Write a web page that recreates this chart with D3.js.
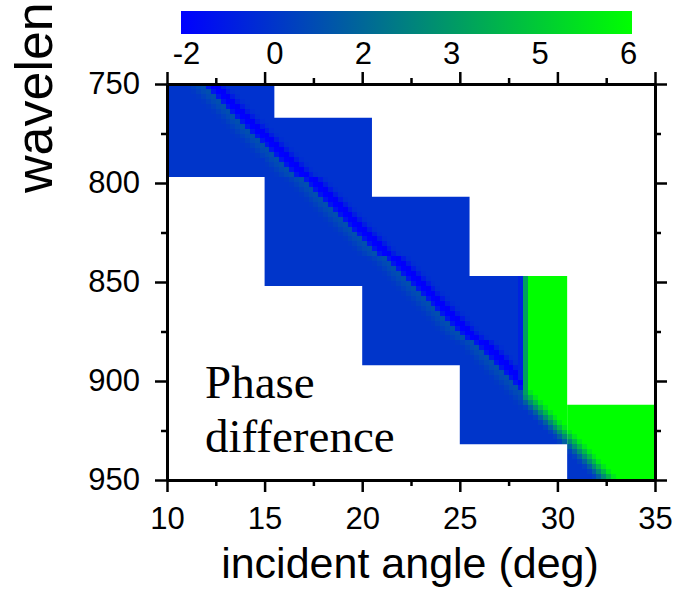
<!DOCTYPE html>
<html>
<head>
<meta charset="utf-8">
<script src="https://cdn.jsdelivr.net/npm/d3@7"></script>
<style>
  body { margin: 0; background: #fff; }
  svg { display: block; }
</style>
</head>
<body>
<svg id="chart" width="677" height="589"></svg>
<script>
// Each block is one sweep of incident angle and wavelength
const blockAngleStart = [10, 15, 20, 25, 30.5];
const blockAngleEnd   = [15.5, 20.5, 25.5, 30.5, 35];
const blockWlStart    = [750, 767, 807, 847, 912];
const blockWlEnd      = [797, 852, 892, 932, 950];
// Angle from which the phase sits on the upper (wrapped) branch; null = never
const blockWrapAngle  = [null, null, null, 28.2, 30.5];

// Resonance: incident angle of the dark band at a given wavelength
const resonanceWl    = [750, 800, 850, 900, 950];
const resonanceAngle = [11.9, 17.2, 22.5, 27.8, 32.9];

// Phase difference across the resonance, per cell away from it (negative = smaller angle)
const bandOffset = [-5, -4, -3, -2, -1, 0, 1, 2, 3, 4, 5];
const bandPhase  = [-0.35, -0.2, 0.0, 0.25, 0.5, -1.4, -2.0, -1.8, -1.1, -0.6, -0.5];
// Same across the resonance on the wrapped branch
const wrapOffset = [-4, -3, -2, -1, 0, 1, 2];
const wrapPhase  = [-0.35, 0.0, 1.0, 2.4, 3.8, 5.2, 6.0];
// Column just before the wrap edge, and the first wrapped column
const wrapEdgePhase = [-1.0, 3.0];

const angleStep = 0.25;
const wlStep = 2.5;

const phaseDomain = [-2, 6];
const colorbarLabels = ["-2", "0", "2", "3", "5", "6"];
const angleTicks = [10, 15, 20, 25, 30, 35];
const angleMinorTicks = [12.5, 17.5, 22.5, 27.5, 32.5];
const wlTicks = [750, 800, 850, 900, 950];
const wlMinorTicks = [775, 825, 875, 925];

const svg = d3.select("#chart");
const margin = { left: 167, right: 22, top: 84, bottom: 109 };
const W = 677, H = 589;

const x = d3.scaleLinear().domain([10, 35]).range([margin.left, W - margin.right]);
const y = d3.scaleLinear().domain([750, 950]).range([margin.top, H - margin.bottom]);
const color = d3.scaleLinear().domain(phaseDomain).range(["#0000ff", "#00ff00"]);
const lineAngle = d3.scaleLinear().domain(resonanceWl).range(resonanceAngle);

function lookup(offsets, values, k) {
  const i = Math.max(0, Math.min(offsets.length - 1, k - offsets[0]));
  return values[i];
}

function cellPhase(b, a, wl) {
  const k = Math.round((a - lineAngle(wl)) / angleStep);
  const wrap = blockWrapAngle[b];
  if (wrap !== null && a >= wrap) {
    let v = lookup(wrapOffset, wrapPhase, k);
    if (wrap > blockAngleStart[b] && a < wrap + angleStep) v = Math.min(v, wrapEdgePhase[1]);
    return v;
  }
  let v = lookup(bandOffset, bandPhase, k);
  if (wrap !== null && a >= wrap - angleStep && k > 1) v = wrapEdgePhase[0];
  return v;
}

const defs = svg.append("defs");
defs.append("filter")
  .attr("id", "soften")
  .attr("x", "-10%").attr("y", "-10%").attr("width", "120%").attr("height", "120%")
  .append("feGaussianBlur").attr("stdDeviation", 0.7);

// Heat map, one clipped group per block, later blocks on top
const heat = svg.append("g");
blockAngleStart.forEach((a0, b) => {
  const a1 = blockAngleEnd[b], w0 = blockWlStart[b], w1 = blockWlEnd[b];
  defs.append("clipPath").attr("id", "clip" + b)
    .append("rect")
    .attr("x", x(a0)).attr("y", y(w0))
    .attr("width", x(a1) - x(a0)).attr("height", y(w1) - y(w0));

  const cells = [];
  for (let a = a0 - angleStep; a < a1 + angleStep; a += angleStep) {
    for (let w = w0 - wlStep; w < w1 + wlStep; w += wlStep) {
      const ac = a + angleStep / 2, wc = w + wlStep / 2;
      cells.push({ a, w, v: cellPhase(b, ac, wc) });
    }
  }
  heat.append("g")
    .attr("clip-path", `url(#clip${b})`)
    .append("g")
    .attr("filter", "url(#soften)")
    .selectAll("rect")
    .data(cells)
    .join("rect")
    .attr("x", d => x(d.a))
    .attr("y", d => y(d.w))
    .attr("width", x(angleStep) - x(0) + 0.6)
    .attr("height", y(750 + wlStep) - y(750) + 0.6)
    .attr("fill", d => color(d.v))
    .attr("shape-rendering", "crispEdges");
});

// Axes
const font = "'Liberation Sans', Arial, sans-serif";
function styleAxis(g) {
  g.select(".domain").attr("stroke", "#000").attr("stroke-width", 3);
  g.selectAll(".tick line").attr("stroke", "#000").attr("stroke-width", 2.5);
  g.selectAll(".tick text").attr("fill", "#000").style("font-family", font).style("font-size", "31px");
}
const plotBottom = H - margin.bottom, plotTop = margin.top;
const plotLeft = margin.left, plotRight = W - margin.right;

svg.append("g").attr("transform", `translate(0,${plotBottom})`)
  .call(d3.axisBottom(x).tickValues(angleTicks).tickSize(12).tickSizeOuter(0).tickPadding(15))
  .call(styleAxis);
svg.append("g").attr("transform", `translate(0,${plotBottom})`)
  .call(d3.axisBottom(x).tickValues(angleMinorTicks).tickSize(6).tickFormat(""))
  .call(styleAxis).select(".domain").remove();
svg.append("g").attr("transform", `translate(0,${plotTop})`)
  .call(d3.axisTop(x).tickValues(angleTicks).tickSize(12).tickSizeOuter(0).tickFormat(""))
  .call(styleAxis);
svg.append("g").attr("transform", `translate(0,${plotTop})`)
  .call(d3.axisTop(x).tickValues(angleMinorTicks).tickSize(6).tickFormat(""))
  .call(styleAxis).select(".domain").remove();

svg.append("g").attr("transform", `translate(${plotLeft},0)`)
  .call(d3.axisLeft(y).tickValues(wlTicks).tickSize(12).tickSizeOuter(0).tickPadding(15))
  .call(styleAxis);
svg.append("g").attr("transform", `translate(${plotLeft},0)`)
  .call(d3.axisLeft(y).tickValues(wlMinorTicks).tickSize(6).tickFormat(""))
  .call(styleAxis).select(".domain").remove();
svg.append("g").attr("transform", `translate(${plotRight},0)`)
  .call(d3.axisRight(y).tickValues(wlTicks).tickSize(12).tickSizeOuter(0).tickFormat(""))
  .call(styleAxis);
svg.append("g").attr("transform", `translate(${plotRight},0)`)
  .call(d3.axisRight(y).tickValues(wlMinorTicks).tickSize(6).tickFormat(""))
  .call(styleAxis).select(".domain").remove();

// Axis titles
svg.append("text")
  .attr("x", (222 + 598) / 2).attr("y", 578)
  .attr("text-anchor", "middle")
  .style("font-family", font).style("font-size", "43px")
  .text("incident angle (deg)");
svg.append("text")
  .attr("transform", "translate(52,193) rotate(-90)")
  .attr("text-anchor", "start")
  .style("font-family", font).style("font-size", "52px")
  .text("wavelength (nm)");

// In-plot caption
const cap = svg.append("text")
  .style("font-family", "'Liberation Serif', 'Times New Roman', serif")
  .style("font-size", "47px");
cap.append("tspan").attr("x", 205).attr("y", 398).text("Phase");
cap.append("tspan").attr("x", 205).attr("y", 452).text("difference");

// Colour bar
const cbX0 = 181, cbX1 = 632, cbY = 11, cbH = 23;
const grad = defs.append("linearGradient").attr("id", "cbgrad")
  .attr("x1", "0%").attr("x2", "100%").attr("y1", "0%").attr("y2", "0%");
d3.range(0, 1.0001, 0.125).forEach(t => {
  const v = phaseDomain[0] + t * (phaseDomain[1] - phaseDomain[0]);
  grad.append("stop").attr("offset", (t * 100) + "%").attr("stop-color", color(v));
});
svg.append("rect")
  .attr("x", cbX0).attr("y", cbY).attr("width", cbX1 - cbX0).attr("height", cbH)
  .attr("fill", "url(#cbgrad)");
const cbScale = d3.scalePoint().domain(colorbarLabels).range([186, 628]);
const cbAxis = svg.append("g").attr("transform", `translate(0,${cbY + cbH})`)
  .call(d3.axisBottom(cbScale).tickSize(0).tickPadding(8));
cbAxis.select(".domain").remove();
cbAxis.selectAll(".tick text").attr("fill", "#000")
  .style("font-family", font).style("font-size", "31px");
</script>
</body>
</html>
